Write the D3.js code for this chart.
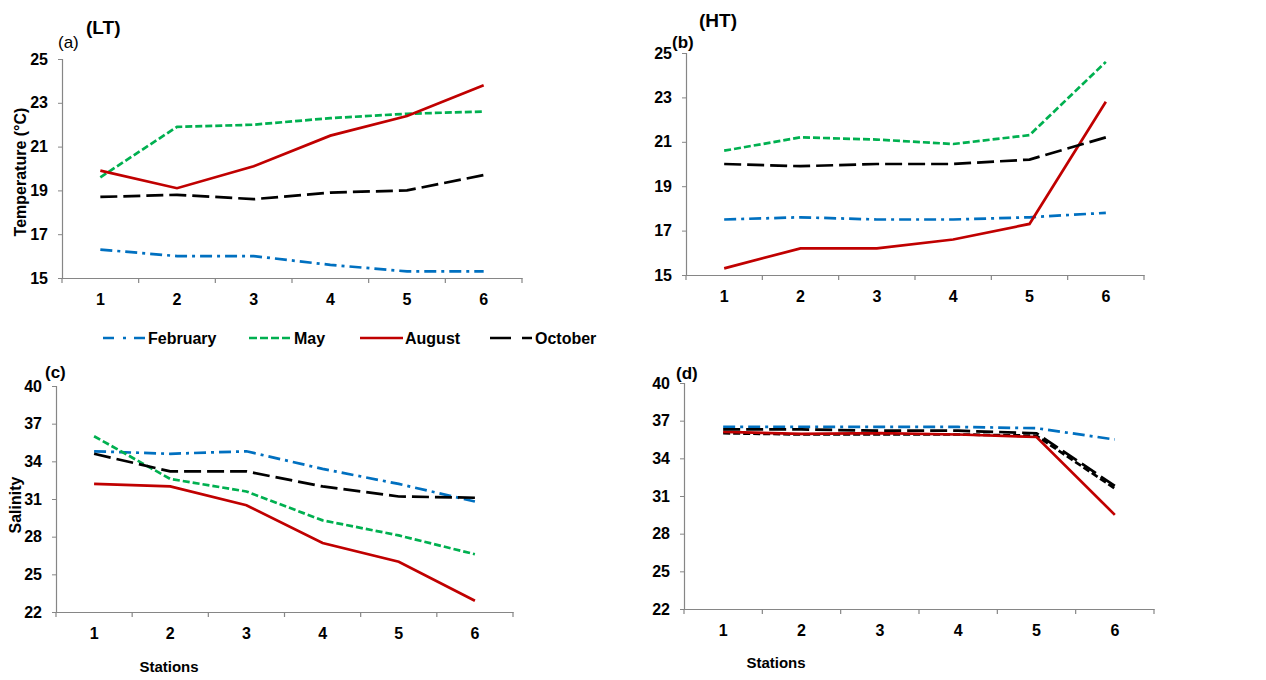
<!DOCTYPE html>
<html><head><meta charset="utf-8">
<script src="https://cdn.jsdelivr.net/npm/d3@7"></script>
<style>
body{margin:0;background:#fff;}
svg{display:block;font-family:"Liberation Sans",Arial,sans-serif;}
</style></head>
<body><svg id="c" width="1266" height="680"></svg>
<script>
const stations = ["1","2","3","4","5","6"];
const months = ["February","May","August","October"];
const monthColors = ["#0070C0","#00B050","#C00000","#000000"];
const tempTicks = [15,17,19,21,23,25];
const salTicks = [22,25,28,31,34,37,40];

// (a) LT temperature
const tempLT_February = [16.3,16.0,16.0,15.6,15.3,15.3];
const tempLT_May      = [19.6,21.9,22.0,22.3,22.5,22.6];
const tempLT_August   = [19.9,19.1,20.1,21.5,22.4,23.8];
const tempLT_October  = [18.7,18.8,18.6,18.9,19.0,19.7];
// (b) HT temperature
const tempHT_February = [17.5,17.6,17.5,17.5,17.6,17.8];
const tempHT_May      = [20.6,21.2,21.1,20.9,21.3,24.6];
const tempHT_August   = [15.3,16.2,16.2,16.6,17.3,22.8];
const tempHT_October  = [20.0,19.9,20.0,20.0,20.2,21.2];
// (c) LT salinity
const salLT_February = [34.8,34.6,34.8,33.4,32.2,30.8];
const salLT_May      = [36.0,32.6,31.6,29.3,28.1,26.6];
const salLT_August   = [32.2,32.0,30.5,27.5,26.0,22.9];
const salLT_October  = [34.6,33.2,33.2,32.0,31.2,31.1];
// (d) HT salinity
const salHT_February = [36.5,36.5,36.5,36.5,36.4,35.5];
const salHT_May      = [36.0,35.9,35.9,35.9,35.8,31.6];
const salHT_August   = [36.1,35.95,36.0,35.9,35.7,29.5];
const salHT_October  = [36.3,36.3,36.2,36.2,36.0,31.8];

const dashes = ["12,5,3,5","7,3",null,"17,6"];
const legendDashes = ["11,9,3,8,11","8,3",null,"21,11,10"];

const panels = [
  {series:[tempLT_February,tempLT_May,tempLT_August,tempLT_October], ticks:tempTicks, x0:62, x1:522, yT:59, yB:278, colors:monthColors},
  {series:[tempHT_February,tempHT_May,tempHT_August,tempHT_October], ticks:tempTicks, x0:686, x1:1144, yT:53, yB:275, colors:monthColors},
  {series:[salLT_February,salLT_May,salLT_August,salLT_October], ticks:salTicks, x0:56, x1:513, yT:386, yB:612, colors:monthColors},
  {series:[salHT_February,salHT_May,salHT_August,salHT_October], ticks:salTicks, x0:684, x1:1154, yT:383, yB:609, colors:["#0070C0","#000000","#C00000","#000000"]}
];

const svg = d3.select("#c");
const axisCol = "#868686";

panels.forEach(p => {
  const x = d3.scaleBand().domain(stations).range([p.x0,p.x1]);
  const y = d3.scaleLinear().domain([p.ticks[0], p.ticks[p.ticks.length-1]]).range([p.yB,p.yT]);
  const g = svg.append("g");
  const ya = g.append("g").attr("transform",`translate(${p.x0},0)`)
    .call(d3.axisLeft(y).tickValues(p.ticks).tickSize(4).tickPadding(10).tickFormat(d3.format("d")));
  ya.select(".domain").attr("stroke",axisCol).attr("stroke-width",1.2);
  ya.selectAll(".tick line").attr("stroke",axisCol);
  ya.selectAll("text").attr("font-size",16).attr("font-weight","bold").attr("fill","#000").attr("font-family","inherit");
  const xa = g.append("g").attr("transform",`translate(0,${p.yB})`)
    .call(d3.axisBottom(x).tickSize(0).tickPadding(16));
  xa.select(".domain").attr("stroke",axisCol).attr("stroke-width",1.2);
  xa.selectAll("text").attr("font-size",16).attr("font-weight","bold").attr("fill","#000").attr("font-family","inherit");
  const bounds = stations.map(s => x(s)).concat([p.x1]);
  g.selectAll(".bt").data(bounds).join("line")
    .attr("x1",d=>d).attr("x2",d=>d).attr("y1",p.yB).attr("y2",p.yB+5)
    .attr("stroke",axisCol).attr("stroke-width",1.2);
  const line = d3.line().x((d,i)=>x(stations[i])+x.bandwidth()/2).y(d=>y(d));
  p.series.forEach((s,k) => {
    g.append("path").datum(s).attr("d",line).attr("fill","none")
      .attr("stroke",p.colors[k]).attr("stroke-width",2.7)
      .attr("stroke-dasharray",dashes[k]);
  });
});

const txt = (x,y,t,o={}) => svg.append("text").attr("x",x).attr("y",y).text(t)
  .attr("font-size",o.size||16).attr("font-weight",o.w||"bold")
  .attr("text-anchor",o.a||"start").attr("transform",o.tr||null);
txt(58,48,"(a)",{w:"normal",size:17});
txt(86,34,"(LT)",{size:19});
txt(672,48,"(b)",{size:17});
txt(699,27,"(HT)",{size:19});
txt(45,378,"(c)",{size:17});
txt(676,379,"(d)",{size:17});
txt(0,0,"Temperature  (°C)",{a:"middle",size:16,tr:"translate(26,172) rotate(-90)"});
txt(0,0,"Salinity",{a:"middle",size:16,tr:"translate(21,505) rotate(-90)"});
txt(169,672,"Stations",{a:"middle",size:15});
txt(776,668,"Stations",{a:"middle",size:15});

const legX = [103,249,360,490];
const lg = svg.append("g");
months.forEach((m,k) => {
  lg.append("line").attr("x1",legX[k]).attr("x2",legX[k]+43).attr("y1",338).attr("y2",338)
    .attr("stroke",monthColors[k]).attr("stroke-width",2.7).attr("stroke-dasharray",legendDashes[k]);
  lg.append("text").attr("x",legX[k]+45).attr("y",344).text(m)
    .attr("font-size",16).attr("font-weight","bold");
});
</script></body></html>
